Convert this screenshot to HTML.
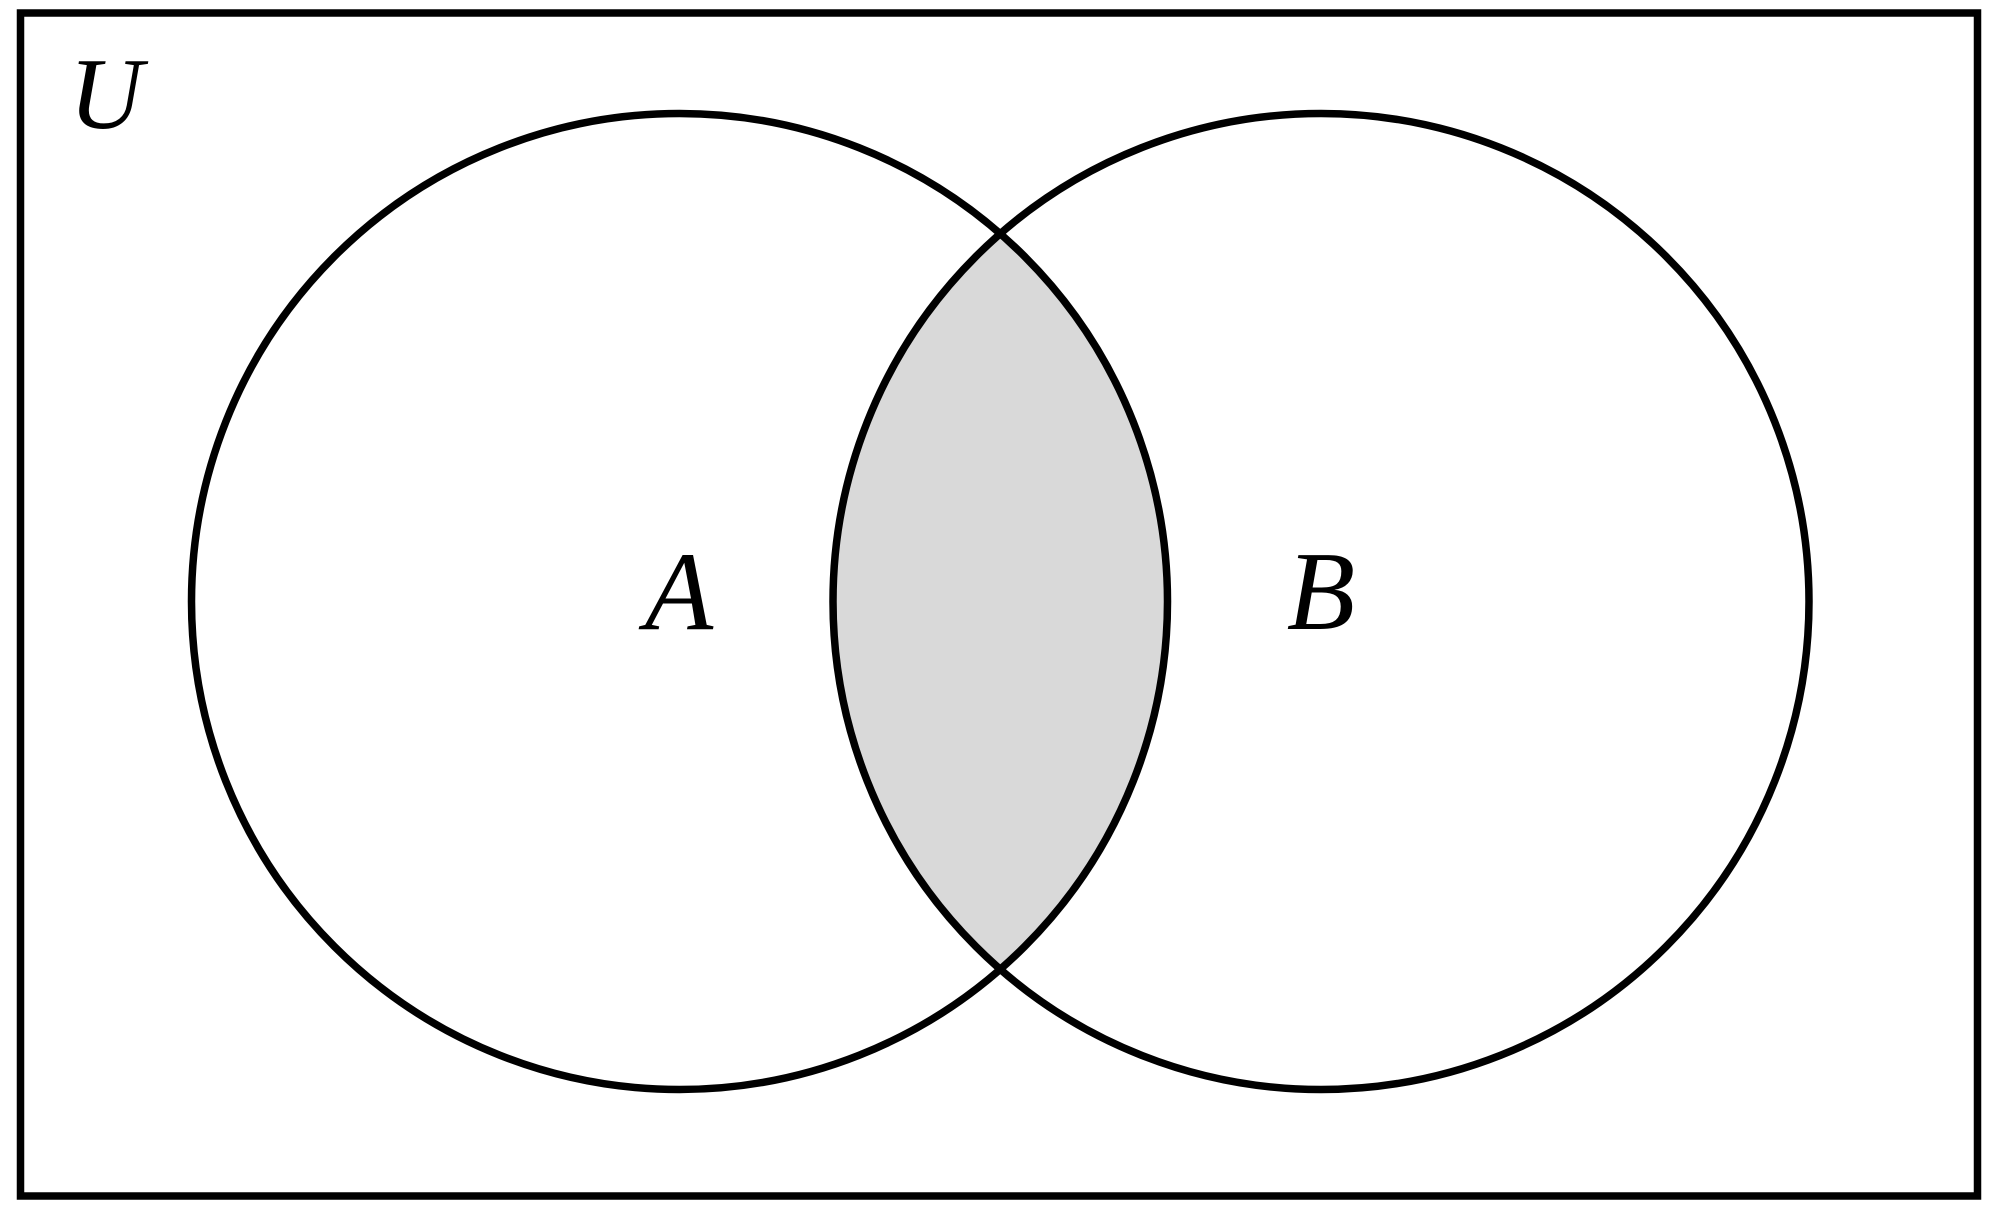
<!DOCTYPE html>
<html><head><meta charset="utf-8"><style>html,body{margin:0;padding:0;background:#fff}svg{display:block}
.t{font-family:"Liberation Serif","Times New Roman",serif;font-style:italic}</style></head>
<body>
<svg width="1999" height="1207" viewBox="0 0 1999 1207" xmlns="http://www.w3.org/2000/svg">
<defs><clipPath id="ca"><circle cx="679.5" cy="601.5" r="488"/></clipPath></defs>
<rect x="0" y="0" width="1999" height="1207" fill="#fff"/>
<circle cx="1321" cy="601.5" r="488" fill="#d9d9d9" clip-path="url(#ca)"/>
<rect x="20.5" y="13" width="1957" height="1183" fill="none" stroke="#000" stroke-width="7.5"/>
<circle cx="679.5" cy="601.5" r="488" fill="none" stroke="#000" stroke-width="7.5"/>
<circle cx="1321" cy="601.5" r="488" fill="none" stroke="#000" stroke-width="7.5"/>
<g class="t" text-anchor="middle">
<text x="106" y="128" font-size="102">U</text>
<text x="679" y="629" font-size="112">A</text>
<text x="1321" y="629" font-size="112">B</text>
</g>
</svg>
</body></html>
